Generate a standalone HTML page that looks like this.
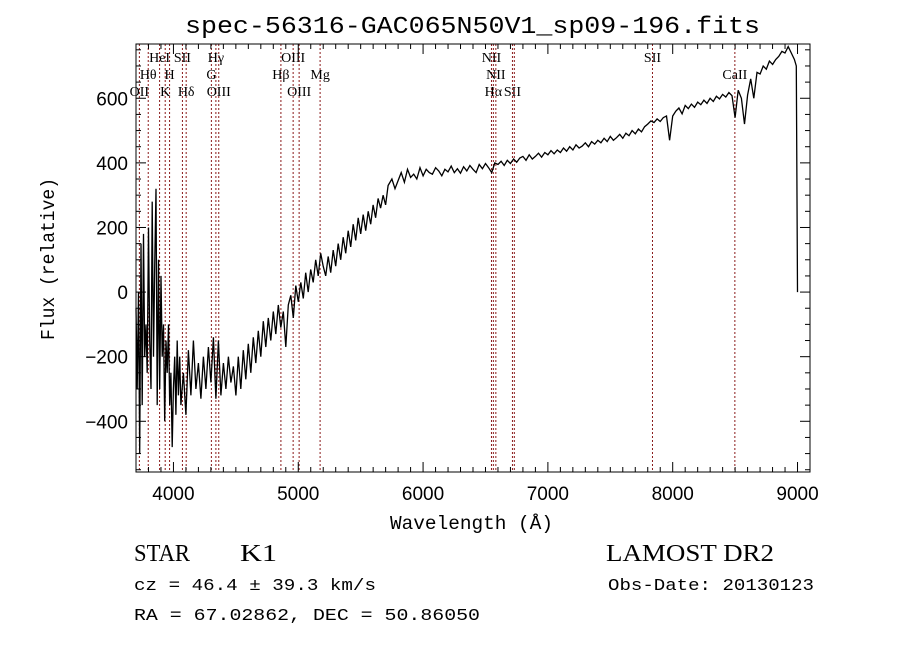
<!DOCTYPE html>
<html><head><meta charset="utf-8"><style>
body{margin:0;background:#fff;width:900px;height:649px;overflow:hidden}
svg{display:block}
text{font-family:"Liberation Sans",sans-serif;fill:#000}
.m{font-family:"Liberation Mono",monospace}
.s{font-family:"Liberation Serif",serif}
</style></head><body>
<svg id="c" width="900" height="649">
<text class="m" x="185" y="33" font-size="24" textLength="575" lengthAdjust="spacingAndGlyphs">spec-56316-GAC065N50V1_sp09-196.fits</text>
<text class="m" x="390" y="529" font-size="19" textLength="163" lengthAdjust="spacingAndGlyphs">Wavelength (Å)</text>
<text class="m" x="0" y="0" font-size="19" textLength="162" lengthAdjust="spacingAndGlyphs" transform="translate(54,340) rotate(-90)">Flux (relative)</text>
<text class="s" x="134" y="561" font-size="24" textLength="56" lengthAdjust="spacingAndGlyphs">STAR</text>
<text class="s" x="240" y="561" font-size="24" textLength="37" lengthAdjust="spacingAndGlyphs">K1</text>
<text class="s" x="606" y="561" font-size="24" textLength="168" lengthAdjust="spacingAndGlyphs">LAMOST DR2</text>
<text class="m" x="134" y="590" font-size="17" textLength="242" lengthAdjust="spacingAndGlyphs">cz = 46.4 ± 39.3 km/s</text>
<text class="m" x="608" y="590" font-size="17" textLength="206" lengthAdjust="spacingAndGlyphs">Obs-Date: 20130123</text>
<text class="m" x="134" y="620" font-size="17" textLength="346" lengthAdjust="spacingAndGlyphs">RA =  67.02862, DEC =  50.86050</text>
<g id="g"></g>
</svg>
<script>
const xTicks=[4000,5000,6000,7000,8000,9000];
const yTicks=[-400,-200,0,200,400,600];
const waveBlue=[3700,3710,3720,3730,3740,3750,3760,3770,3780,3790,3800,3810,3820,3830,3840,3850,3860,3870,3880,3890,3900,3910,3920,3930,3940,3950,3960,3970,3980,3990,4000,4010,4020,4030,4040,4050,4060,4080,4100,4120,4140,4160,4180,4200,4220,4240,4260,4280,4300,4320,4340,4360,4380,4400,4420,4440,4460,4480,4500,4520,4540,4560,4580,4600,4620,4640,4660,4680,4700,4720,4740,4760,4780,4800,4820,4840,4860,4880,4900,4920,4940,4960,4980,5000,5020,5040,5060,5080,5100,5120,5140,5160,5180,5200,5220,5240,5260,5280,5300,5320,5340,5360,5380,5400,5420,5440,5460,5480,5500,5520,5540,5560,5580,5600,5620,5640,5660,5680,5700,5720];
const fluxBlue=[-50,-300,0,-500,150,-350,180,-200,-100,-250,200,-150,-300,280,-200,80,320,-350,100,-300,50,-200,-100,-400,-150,-250,-100,-350,-250,-480,-300,-200,-380,-150,-320,-200,-350,-250,-380,-180,-320,-150,-300,-220,-330,-200,-300,-170,-280,-140,-330,-150,-320,-220,-300,-200,-280,-230,-320,-200,-300,-180,-270,-160,-250,-140,-220,-120,-200,-90,-170,-80,-150,-60,-130,-40,-110,-60,-170,-40,-10,-80,20,-30,30,-20,60,0,70,30,100,50,120,80,50,110,60,130,80,150,100,170,120,190,140,210,160,230,180,240,190,250,210,270,230,290,260,300,270,330,300];
const waveRed=[5750,5775,5800,5825,5850,5875,5900,5925,5950,5975,
6000,6025,6050,6075,6100,6125,6150,6175,6200,6225,
6250,6275,6300,6325,6350,6375,6400,6425,6450,6475,
6500,6525,6550,6575,6600,6625,6650,6675,6700,6725,
6750,6775,6800,6825,6850,6875,6900,6925,6950,6975,
7000,7025,7050,7075,7100,7125,7150,7175,7200,7225,
7250,7275,7300,7325,7350,7375,7400,7425,7450,7475,
7500,7525,7550,7575,7600,7625,7650,7675,7700,7725,
7750,7775,7800,7825,7850,7875,7900,7925,7950,7975,
8000,8025,8050,8075,8100,8125,8150,8175,8200,8225,
8250,8275,8300,8325,8350,8375,8400,8425,8450,8475,
8500,8525,8550,8575,8600,8625,8650,8675,8700,8725,
8750,8775,8800,8825,8850,8875,8900,8925,8950,8975,
8990,9000];
const fluxRed=[350,320,345,370,340,380,355,365,350,385,
360,380,370,365,385,375,360,380,372,390,
370,382,368,388,375,392,380,370,395,382,
398,385,370,400,395,405,392,408,398,412,
402,415,420,408,425,412,420,430,418,432,
425,438,428,440,432,446,436,450,440,456,
446,452,462,450,466,458,470,462,476,466,
482,470,478,488,476,492,484,500,490,505,
496,512,520,530,525,536,528,540,545,470,
545,560,570,552,578,568,582,572,588,580,
594,584,600,590,606,598,612,604,618,608,
540,625,600,520,610,660,600,680,675,700,
690,715,705,720,730,745,740,760,740,720,
700,0];
const lines=[[3727,"OII",3],[3798,"Hθ",2],[3889,"HeI",1],[3934,"K",3],[3969,"H",2],[4072,"SII",1],[4102,"Hδ",3],[4304,"G",2],[4340,"Hγ",1],[4363,"OIII",3],[4861,"Hβ",2],[4959,"OIII",1],[5007,"OIII",3],[5175,"Mg",2],[6548,"NII",1],[6563,"Hα",3],[6583,"NII",2],[6716,"SII",3],[6731,"",0],[7838,"SII",1],[8498,"CaII",2]];
const L=136,R=810,T=44,B=472,X0=3700,X1=9100,Y0=-557,Y1=768;
const sx=v=>L+(v-X0)/(X1-X0)*(R-L);
const sy=v=>B-(v-Y0)/(Y1-Y0)*(B-T);
const g=document.getElementById('g');const NS='http://www.w3.org/2000/svg';
function mk(t,a){const e=document.createElementNS(NS,t);for(const k in a)e.setAttribute(k,a[k]);g.appendChild(e);return e;}
lines.forEach(l=>{const x=sx(l[0]);
 const e=mk('line',{x1:x,x2:x,y1:T,y2:B,stroke:'#8b1a1a','stroke-width':1,'stroke-dasharray':'2,2'});
 
 
 if(l[1]){const t=mk('text',{x:x,y:[0,62,79,96][l[2]],'font-size':14,'text-anchor':'middle',class:'s'});t.textContent=l[1];
 
 }});
let d='';
function seg(w,f){const n=Math.min(w.length,f.length);for(let i=0;i<n;i++){d+=(d?'L':'M')+sx(w[i]).toFixed(1)+','+sy(f[i]).toFixed(1);}}
seg(waveBlue,fluxBlue);seg(waveRed,fluxRed);
const p=mk('path',{d:d,fill:'none',stroke:'#000','stroke-width':1.3});


const fr=mk('rect',{x:L,y:T,width:R-L,height:B-T,fill:'none',stroke:'#000','stroke-width':1});


for(let v=3800;v<=9100;v+=100){const x=sx(v),big=v%1000==0,len=big?10:5;
 mk('line',{x1:x,x2:x,y1:B,y2:B-len,stroke:'#000'});mk('line',{x1:x,x2:x,y1:T,y2:T+len,stroke:'#000'});}
for(let v=-550;v<=750;v+=50){const y=sy(v),big=v%200==0,len=big?10:5;
 mk('line',{x1:L,x2:L+len,y1:y,y2:y,stroke:'#000'});mk('line',{x1:R,x2:R-len,y1:y,y2:y,stroke:'#000'});}
xTicks.forEach(v=>{const t=mk('text',{x:sx(v),y:500,'font-size':19,'text-anchor':'middle'});t.textContent=v;
 
 });
yTicks.forEach(v=>{const t=mk('text',{x:128,y:sy(v)+7,'font-size':19,'text-anchor':'end'});t.textContent=v<0?'−'+(-v):v;
 
 });
</script>
</body></html>
